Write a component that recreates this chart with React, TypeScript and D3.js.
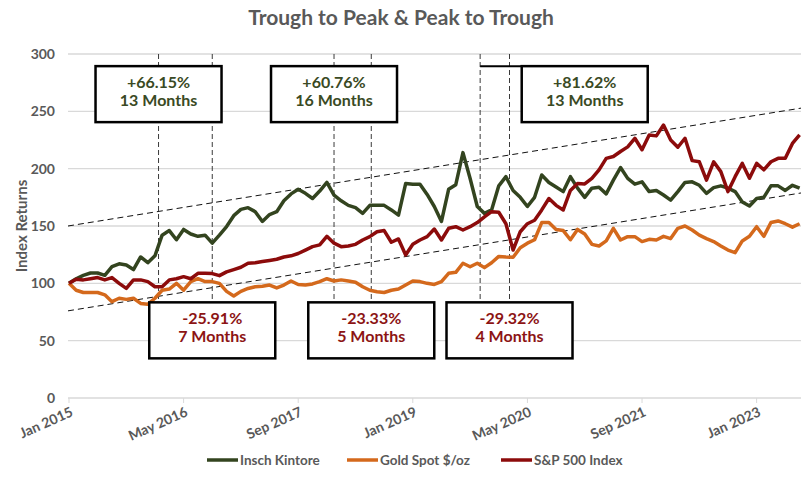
import React, { useEffect, useRef } from 'react';
import * as d3 from 'd3';

// monthly index values, Jan 2015 .. Jul 2023 (month 0 .. 102)
const inschKintore = [
  100, 104, 107, 109, 109, 107, 114.5, 117, 116, 112, 123, 118, 124, 142, 146, 138, 147, 143, 141, 142,
  135, 142, 149.5, 159, 164.5, 166, 162.5, 154, 160, 162.5, 172, 178, 182, 178.5, 174, 180.5, 188, 177, 172, 168,
  166, 161, 168, 168, 168, 164, 159.5, 187, 186.5, 186.5, 177.5, 167, 154, 182, 186, 214, 191.5, 167, 161, 164,
  185, 193, 181, 175, 167, 175, 194.5, 188, 184, 180, 193, 183, 175, 183, 183.8, 178, 190, 201, 191.5, 186.5,
  188.5, 180, 181, 177, 172.5, 180, 188, 188.5, 185.5, 178.5, 183.5, 185, 183, 180, 171, 167.5, 174, 175, 185, 185,
  181, 185.5, 183,
];
const goldSpot = [
  100, 94, 92, 92, 92, 90, 84, 87, 86, 87, 82.5, 81.7, 87, 94, 95, 100, 94, 101.5, 104, 101.5,
  101.5, 100, 93, 89, 93, 95.5, 97, 97.5, 98.5, 96, 98.5, 102, 99, 98.5, 99.5, 101.5, 104, 102, 103, 102,
  101, 97, 94, 92.7, 92, 94, 95, 98.5, 102, 101.5, 100, 99, 101.5, 108.7, 109.6, 117.5, 114.5, 117.5, 113.7, 118,
  123.5, 123, 122.7, 131, 135, 138, 153, 153, 147, 146, 138, 147, 143, 134, 132.6, 137, 148, 137.8, 140.7, 140.7,
  136.4, 138.4, 137.8, 141, 139, 148, 150, 146.5, 142, 139, 136.4, 132.6, 129, 126.8, 137, 141, 149.4, 141, 153, 154.4,
  152, 149, 152,
];
const sp500 = [
  100, 103.5, 103, 104, 105, 103, 105, 100, 95.6, 103, 103, 101.5, 97, 97, 103, 104, 105.8, 104, 108.7, 108.7,
  108.5, 106.7, 110, 112, 114, 117.5, 118, 119, 120, 121, 123, 124, 126, 129, 132, 133.5, 141, 135, 132, 132.6,
  134, 137.8, 140.7, 145, 146, 135.8, 138.7, 124.7, 134, 137.8, 140.7, 147.4, 137.8, 148, 149.4, 146.5, 149.4, 153, 158, 162.5,
  162, 152, 129, 145, 152, 155, 164, 174, 168, 164, 181, 187, 186.7, 191.6, 199, 209, 210.6, 215, 219, 226.5,
  216.5, 229.4, 228.6, 238, 225, 218.7, 226.5, 207, 206, 190, 206, 197.4, 180, 193, 204.6, 191.6, 204.6, 199, 206, 209,
  209, 222, 229.4,
];

const seriesNames = ['Insch Kintore', 'Gold Spot $/oz', 'S&P 500 Index'];
const seriesColors = ['#33441f', '#d4691c', '#8c0b0b'];

const tickMonths = [0, 16, 32, 48, 64, 80, 96];
const tickLabels = ['Jan 2015', 'May 2016', 'Sep 2017', 'Jan 2019', 'May 2020', 'Sep 2021', 'Jan 2023'];
const yTicks = [0, 50, 100, 150, 200, 250, 300];

// trend channel: [start, end] values at month 0 and month 102
const upperTrend = [150, 252.6];
const lowerTrend = [76, 178.6];

// cycle turning points (months since Jan 2015)
const turnMonths = [12.5, 20, 37, 42.2, 57.4, 61.5];

const upMoves = [
  { m: 12.5, pct: '+66.15%', len: '13 Months' },
  { m: 37, pct: '+60.76%', len: '16 Months' },
  { m: 72, pct: '+81.62%', len: '13 Months' },
];
const downMoves = [
  { m: 20, pct: '-25.91%', len: '7 Months' },
  { m: 42.2, pct: '-23.33%', len: '5 Months' },
  { m: 61.5, pct: '-29.32%', len: '4 Months' },
];

const FONT = 'Lato, "Open Sans", sans-serif';

export default function App() {
  const ref = useRef<SVGSVGElement>(null);

  useEffect(() => {
    const svg = d3.select(ref.current);
    svg.selectAll('*').remove();

    const x = d3.scaleLinear().domain([0, 102]).range([69, 799.6]);
    const y = d3.scaleLinear().domain([0, 300]).range([398, 54]);

    svg
      .append('text')
      .attr('x', 401)
      .attr('y', 25)
      .attr('text-anchor', 'middle')
      .attr('fill', '#595959')
      .style('font', `bold 21px ${FONT}`)
      .text('Trough to Peak & Peak to Trough');

    // gridlines
    svg
      .append('g')
      .selectAll('line')
      .data(yTicks)
      .enter()
      .append('line')
      .attr('x1', 68)
      .attr('x2', 801)
      .attr('y1', d => y(d))
      .attr('y2', d => y(d))
      .attr('stroke', '#d9d9d9')
      .attr('stroke-width', 1.3);

    // y labels
    svg
      .append('g')
      .selectAll('text')
      .data(yTicks)
      .enter()
      .append('text')
      .attr('x', 55)
      .attr('y', d => y(d))
      .attr('dy', '0.35em')
      .attr('text-anchor', 'end')
      .attr('fill', '#595959')
      .style('font', `bold 14px ${FONT}`)
      .text(d => d);

    svg
      .append('text')
      .attr('transform', `translate(27,${y(150)}) rotate(-90)`)
      .attr('text-anchor', 'middle')
      .attr('fill', '#595959')
      .style('font', `bold 15px ${FONT}`)
      .text('Index Returns');

    // x ticks + labels
    const xg = svg.append('g');
    xg.selectAll('line')
      .data(tickMonths)
      .enter()
      .append('line')
      .attr('x1', d => x(d))
      .attr('x2', d => x(d))
      .attr('y1', y(0))
      .attr('y2', y(0) + 5)
      .attr('stroke', '#d9d9d9');
    xg.selectAll('text')
      .data(tickMonths)
      .enter()
      .append('text')
      .attr('transform', d => `translate(${x(d) + 3},${y(0) + 13}) rotate(-24)`)
      .attr('text-anchor', 'end')
      .attr('dy', '0.35em')
      .attr('fill', '#595959')
      .style('font', `bold 14px ${FONT}`)
      .text((d, i) => tickLabels[i]);

    // trend channel
    [upperTrend, lowerTrend].forEach(t => {
      svg
        .append('line')
        .attr('x1', x(0) - 1)
        .attr('x2', 801)
        .attr('y1', y(t[0]))
        .attr('y2', y(t[0] + ((t[1] - t[0]) * x.invert(801)) / 102))
        .attr('stroke', '#111')
        .attr('stroke-width', 1)
        .attr('stroke-dasharray', '6,4');
    });

    // vertical turning point markers
    svg
      .append('g')
      .selectAll('line')
      .data(turnMonths)
      .enter()
      .append('line')
      .attr('x1', d => x(d))
      .attr('x2', d => x(d))
      .attr('y1', y(300))
      .attr('y2', y(84))
      .attr('stroke', '#3a3a3a')
      .attr('stroke-width', 1)
      .attr('stroke-dasharray', '5,3');

    // series
    const line = d3
      .line<number>()
      .x((d, i) => x(i))
      .y(d => y(d));
    [inschKintore, goldSpot, sp500].forEach((s, i) => {
      svg
        .append('path')
        .datum(s)
        .attr('d', line)
        .attr('fill', 'none')
        .attr('stroke', seriesColors[i])
        .attr('stroke-width', 3.5)
        .attr('stroke-linejoin', 'round');
    });

    // stray box edge left of the third box
    svg
      .append('line')
      .attr('x1', x(57.4))
      .attr('x2', x(72) - 63)
      .attr('y1', y(265) - 28)
      .attr('y2', y(265) - 28)
      .attr('stroke', '#000')
      .attr('stroke-width', 2);

    const boxW = 126,
      boxH = 56;
    const drawBoxes = (data, v, color) => {
      const g = svg
        .append('g')
        .selectAll('g')
        .data(data)
        .enter()
        .append('g')
        .attr('transform', d => `translate(${x(d.m)},${y(v)})`);
      g.append('rect')
        .attr('x', -boxW / 2)
        .attr('y', -boxH / 2)
        .attr('width', boxW)
        .attr('height', boxH)
        .attr('fill', '#fff')
        .attr('stroke', '#000')
        .attr('stroke-width', 2.5);
      g.append('text')
        .attr('y', -6)
        .attr('text-anchor', 'middle')
        .attr('fill', color)
        .style('font', `bold 16px ${FONT}`)
        .text(d => d.pct);
      g.append('text')
        .attr('y', 12)
        .attr('text-anchor', 'middle')
        .attr('fill', color)
        .style('font', `bold 16px ${FONT}`)
        .text(d => d.len);
    };
    drawBoxes(upMoves, 265, '#3a4a24');
    drawBoxes(downMoves, 59, '#8c1414');

    // legend
    const legendX = [207, 347, 501];
    const lg = svg
      .append('g')
      .selectAll('g')
      .data(seriesNames)
      .enter()
      .append('g')
      .attr('transform', (d, i) => `translate(${legendX[i]},460)`);
    lg.append('line')
      .attr('x1', 0)
      .attr('x2', 31)
      .attr('stroke', (d, i) => seriesColors[i])
      .attr('stroke-width', 3.5);
    lg.append('text')
      .attr('x', 33)
      .attr('dy', '0.35em')
      .attr('fill', '#595959')
      .style('font', `bold 13.5px ${FONT}`)
      .text(d => d);
  }, []);

  return (
    <svg
      ref={ref}
      width={801}
      height={495}
      style={{ position: 'absolute', left: 0, top: 0, background: '#fff' }}
    />
  );
}
